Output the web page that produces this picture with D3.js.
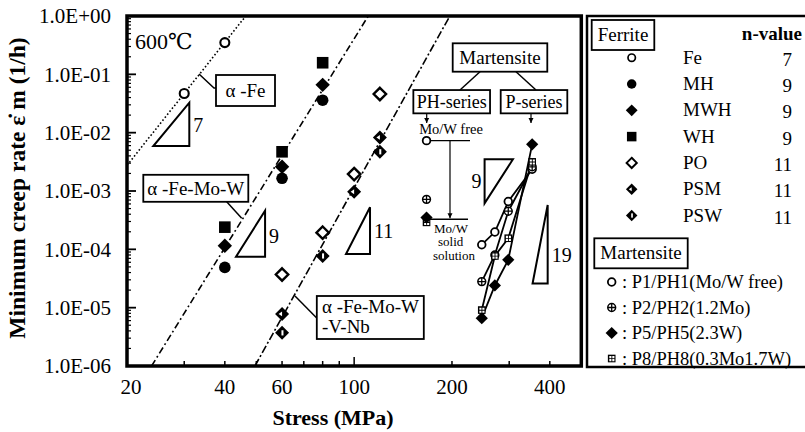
<!DOCTYPE html>
<html>
<head>
<meta charset="utf-8">
<script src="https://cdn.jsdelivr.net/npm/d3@7"></script>
<style>
  body { margin: 0; background: #fff; }
  svg, svg text { font-family: "Liberation Serif", Tinos, "Times New Roman", Times, "DejaVu Serif", serif; }
  svg { display: block; }
</style>
</head>
<body>
<svg id="chart" width="805" height="432"></svg>
<script>
// axis ticks
const stressTicks = [20, 40, 60, 100, 200, 400];
const stressMinor = [30, 50, 70, 80, 90, 300];
const rateTicks = [1, 1e-1, 1e-2, 1e-3, 1e-4, 1e-5, 1e-6];
const rateLabels = ["1.0E+00", "1.0E-01", "1.0E-02", "1.0E-03", "1.0E-04", "1.0E-05", "1.0E-06"];

// ferrite steels (stress MPa, min creep rate 1/h)
const feStress = [30, 40];            const feRate = [0.047, 0.35];
const mhStress = [40, 60, 80];        const mhRate = [4.9e-5, 1.65e-3, 0.036];
const mwhStress = [40, 60, 80];       const mwhRate = [1.15e-4, 2.6e-3, 0.066];
const whStress = [40, 60, 80];        const whRate = [2.4e-4, 4.7e-3, 0.158];
const poStress = [60, 80, 100, 120];  const poRate = [3.7e-5, 1.93e-4, 1.95e-3, 0.046];
const psmStress = [60, 100, 120];     const psmRate = [7.8e-6, 9.7e-4, 0.0083];
const pswStress = [60, 80, 120];      const pswRate = [3.7e-6, 7.7e-5, 0.0047];

const ferriteNames = ["Fe", "MH", "MWH", "WH", "PO", "PSM", "PSW"];
const ferriteN = [7, 9, 9, 9, 11, 11, 11];

// martensite: PH-series at one stress, P-series as connected lines
const phStress = 167;
const phRate = [0.0073, 7.2e-4, 3.5e-4, 2.9e-4];
const pStress = [247, 271, 298, 353];
const p1Rate = [1.2e-4, 1.98e-4, 6.6e-4, 2.36e-3];
const p2Rate = [2.8e-5, 8.0e-5, 4.5e-4, 2.6e-3];
const p5Rate = [6.6e-6, 2.4e-5, 6.6e-5, 6.3e-3];
const p8Rate = [9.1e-6, 7.7e-5, 1.55e-4, 3.16e-3];
const martensiteNames = ["P1/PH1(Mo/W free)", "P2/PH2(1.2Mo)", "P5/PH5(2.3W)", "P8/PH8(0.3Mo1.7W)"];

// fitted power-law lines, endpoints [stress, rate]
const fitFe = [[20, 0.00275], [46.4, 1]];
const fitFeMoW = [[23.8, 1e-6], [110.5, 1]];
const fitFeMoWVNb = [[49.5, 1e-6], [197, 1]];

// slope triangles [stress, rate] corners
const triangles = [
  { label: "7",  pts: [[24.1, 0.0059], [31.1, 0.0059], [31.1, 0.0327]], side: "right", dy: 8 },
  { label: "9",  pts: [[43.3, 7.47e-5], [53.2, 7.47e-5], [53.2, 4.6e-4]], side: "right", dy: 9 },
  { label: "11", pts: [[94.4, 8.3e-5], [111.9, 8.3e-5], [111.9, 5.25e-4]], side: "right", dy: 7 },
  { label: "9",  pts: [[252, 3.49e-3], [308, 3.49e-3], [252, 6.15e-4]], side: "left", dy: 7 },
  { label: "19", pts: [[354, 2.6e-5], [394, 2.6e-5], [394, 5.75e-4]], side: "right", dy: 18 }
];

const svg = d3.select("#chart")
  .attr("font-family", "'Liberation Serif', Tinos, 'Times New Roman', 'DejaVu Serif', serif");
const x = d3.scaleLog().domain([20, 500]).range([127, 581.3]);
const y = d3.scaleLog().domain([1e-6, 1]).range([366, 16]);

function marker(g, type, cx, cy, k) {
  const s = k;
  const dia = (r) => `M${cx},${cy - r}L${cx + r},${cy}L${cx},${cy + r}L${cx - r},${cy}Z`;
  if (type === "openCircle") {
    g.append("circle").attr("cx", cx).attr("cy", cy).attr("r", 4.5 * s)
      .attr("fill", "#fff").attr("stroke", "#000").attr("stroke-width", 2.1 * s);
  } else if (type === "circle") {
    g.append("circle").attr("cx", cx).attr("cy", cy).attr("r", 5.8 * s).attr("fill", "#000");
  } else if (type === "square") {
    g.append("rect").attr("x", cx - 5.8 * s).attr("y", cy - 5.8 * s)
      .attr("width", 11.6 * s).attr("height", 11.6 * s).attr("fill", "#000");
  } else if (type === "diamond") {
    g.append("path").attr("d", dia(7.2 * s)).attr("fill", "#000");
  } else if (type === "openDiamond") {
    g.append("path").attr("d", dia(6.2 * s)).attr("fill", "#fff")
      .attr("stroke", "#000").attr("stroke-width", 2.4 * s);
  } else if (type === "psm") {
    g.append("path").attr("d", dia(7 * s)).attr("fill", "#000");
    g.append("path").attr("d", `M${cx - 3.5 * s},${cy}L${cx},${cy - 2.4 * s}L${cx},${cy + 2.4 * s}Z`).attr("fill", "#fff");
  } else if (type === "psw") {
    g.append("path").attr("d", dia(7 * s)).attr("fill", "#000");
    g.append("rect").attr("x", cx - 0.6 * s).attr("y", cy - 2.6 * s)
      .attr("width", 2 * s).attr("height", 5.2 * s).attr("fill", "#fff");
  } else if (type === "plusCircle") {
    g.append("circle").attr("cx", cx).attr("cy", cy).attr("r", 4.6 * s)
      .attr("fill", "#fff").attr("stroke", "#000").attr("stroke-width", 1.8 * s);
    g.append("path").attr("d", `M${cx - 4.6 * s},${cy}H${cx + 4.6 * s}M${cx},${cy - 4.6 * s}V${cy + 4.6 * s}`)
      .attr("stroke", "#000").attr("stroke-width", 1.5 * s);
  } else if (type === "gridSquare") {
    g.append("rect").attr("x", cx - 4.5 * s).attr("y", cy - 4.5 * s)
      .attr("width", 9 * s).attr("height", 9 * s).attr("fill", "#000");
    g.append("path").attr("d", `M${cx - 2.8 * s},${cy - 2.8 * s}h2.1v2.1h-2.1zM${cx + 0.7 * s},${cy - 2.8 * s}h2.1v2.1h-2.1zM${cx - 2.8 * s},${cy + 0.7 * s}h2.1v2.1h-2.1zM${cx + 0.7 * s},${cy + 0.7 * s}h2.1v2.1h-2.1z`)
      .attr("fill", "#fff");
  }
}

// fit lines
const lineGen = d3.line().x(d => x(d[0])).y(d => y(d[1]));
const fits = [
  { pts: fitFe, dash: "1.6,2.2" },
  { pts: fitFeMoW, dash: "7,3,1.8,3" },
  { pts: fitFeMoWVNb, dash: "8,2.5,2,2.5" }
];
svg.append("g").selectAll("path").data(fits).join("path")
  .attr("d", d => lineGen(d.pts))
  .attr("fill", "none").attr("stroke", "#000").attr("stroke-width", 1.6)
  .attr("stroke-dasharray", d => d.dash);

// slope triangles
const triG = svg.append("g");
triangles.forEach(t => {
  const p = t.pts.map(d => [x(d[0]), y(d[1])]);
  triG.append("path").attr("d", "M" + p.join("L") + "Z")
    .attr("fill", "none").attr("stroke", "#000").attr("stroke-width", 2);
  const ys = p.map(d => d[1]);
  const xs = p.map(d => d[0]);
  const my = (d3.min(ys) + d3.max(ys)) / 2 + t.dy;
  triG.append("text")
    .attr("x", t.side === "right" ? d3.max(xs) + 4 : d3.min(xs) - 3)
    .attr("y", my)
    .attr("text-anchor", t.side === "right" ? "start" : "end")
    .attr("font-size", 20).text(t.label);
});

// ferrite points
const ferrite = [
  { type: "openCircle", stress: feStress, rate: feRate },
  { type: "circle", stress: mhStress, rate: mhRate },
  { type: "diamond", stress: mwhStress, rate: mwhRate },
  { type: "square", stress: whStress, rate: whRate },
  { type: "openDiamond", stress: poStress, rate: poRate },
  { type: "psm", stress: psmStress, rate: psmRate },
  { type: "psw", stress: pswStress, rate: pswRate }
];
const ptG = svg.append("g");
ferrite.forEach(s => s.stress.forEach((v, i) => marker(ptG, s.type, x(v), y(s.rate[i]), 1)));

// martensite P-series lines and points
const mTypes = ["openCircle", "plusCircle", "diamond", "gridSquare"];
const pSeries = [p1Rate, p2Rate, p5Rate, p8Rate];
const mG = svg.append("g");
pSeries.forEach(r => {
  mG.append("path").attr("d", lineGen(pStress.map((v, i) => [v, r[i]])))
    .attr("fill", "none").attr("stroke", "#000").attr("stroke-width", 1.8);
});
pSeries.forEach((r, j) => pStress.forEach((v, i) => marker(mG, mTypes[j], x(v), y(r[i]), 0.85)));
// PH-series
[3, 2, 1, 0].forEach(j => marker(mG, mTypes[j], x(phStress), y(phRate[j]), 0.85));

// annotation helpers
function boxText(cx, cy, w, h, lines, fs) {
  const g = svg.append("g");
  g.append("rect").attr("x", cx - w / 2).attr("y", cy - h / 2).attr("width", w).attr("height", h)
    .attr("fill", "#fff").attr("stroke", "#000").attr("stroke-width", 1.8);
  lines.forEach(t => {
    g.append("text").attr("x", t.x !== undefined ? t.x : cx).attr("y", t.y)
      .attr("text-anchor", t.x !== undefined ? "start" : "middle")
      .attr("font-size", fs).text(t.s);
  });
  return g;
}
function seg(pts, w) {
  svg.append("path").attr("d", "M" + pts.join("L")).attr("fill", "none")
    .attr("stroke", "#000").attr("stroke-width", w || 1.5);
}
function arrowDown(ax, y1, y2) {
  seg([[ax, y1], [ax, y2]], 1.2);
  svg.append("path").attr("d", `M${ax - 2.5},${y2 - 5}L${ax},${y2}L${ax + 2.5},${y2 - 5}Z`).attr("fill", "#000");
}

// ferrite line labels
seg([[199, 74], [214, 88], [216, 88]]);
boxText(245.5, 90.5, 59, 31, [{ s: "α -Fe", y: 97 }], 19);
seg([[226.7, 201.7], [241.7, 218.3]]);
boxText(195.8, 188.3, 105, 27, [{ s: "α -Fe-Mo-W", y: 195 }], 19);
seg([[295, 296], [316.7, 318]]);
boxText(370.3, 317.5, 107, 43, [{ s: "α -Fe-Mo-W", x: 322, y: 313 }, { s: "-V-Nb", x: 322, y: 333 }], 19);

svg.append("text").attr("x", 135).attr("y", 49).attr("font-size", 22).text("600℃");

// martensite annotations
seg([[480, 71.7], [460, 90]]);
seg([[516, 71.7], [536, 90]]);
boxText(500, 57.5, 94.6, 28.4, [{ s: "Martensite", y: 64 }], 19);
boxText(451.7, 101.7, 76.7, 23.3, [{ s: "PH-series", y: 107.5 }], 18);
boxText(534, 101.7, 66.6, 23.3, [{ s: "P-series", y: 107.5 }], 18);
arrowDown(426.7, 113.5, 123);
arrowDown(531, 113.5, 123);
svg.append("text").attr("x", 451).attr("y", 134).attr("text-anchor", "middle").attr("font-size", 14.5).text("Mo/W free");
const yFree = y(phRate[0]);
const ySolid = 219.3;
seg([[x(phStress) + 4, yFree], [470, yFree]], 1.4);
arrowDown(450, yFree, ySolid - 1);
seg([[428, ySolid], [468, ySolid]], 1.4);
[["Mo/W", 434, 232.5], ["solid", 438, 246], ["solution", 433, 259.5]].forEach(d =>
  svg.append("text").attr("x", d[1]).attr("y", d[2]).attr("font-size", 13).text(d[0]));

// axes ticks
const axG = svg.append("g");
stressTicks.concat(stressMinor).forEach(v => {
  const len = v === 100 ? 9 : 5;
  axG.append("line").attr("x1", x(v)).attr("x2", x(v)).attr("y1", 366).attr("y2", 366 - len)
    .attr("stroke", "#000").attr("stroke-width", 1.5);
});
const yMinor = [];
for (let e = -6; e < 0; e++) for (let m = 2; m <= 9; m++) yMinor.push(m * Math.pow(10, e));
yMinor.forEach(v => axG.append("line").attr("x1", 127).attr("x2", 131).attr("y1", y(v)).attr("y2", y(v))
  .attr("stroke", "#000").attr("stroke-width", 1.2));
rateTicks.forEach(v => axG.append("line").attr("x1", 127).attr("x2", 136).attr("y1", y(v)).attr("y2", y(v))
  .attr("stroke", "#000").attr("stroke-width", 1.8));

// frame
svg.append("rect").attr("x", 127).attr("y", 16).attr("width", 454.3).attr("height", 350)
  .attr("fill", "none").attr("stroke", "#000").attr("stroke-width", 3.5);

// tick labels
axG.selectAll("text.xl").data(stressTicks).join("text").attr("class", "xl")
  .attr("x", d => x(d) + (d === 20 ? 4 : 0)).attr("y", 394).attr("text-anchor", "middle")
  .attr("font-size", 21).text(d => d);
axG.selectAll("text.yl").data(rateTicks).join("text").attr("class", "yl")
  .attr("x", 111).attr("y", d => y(d)).attr("dy", "0.35em").attr("text-anchor", "end")
  .attr("font-size", 21).text((d, i) => rateLabels[i]);

// axis titles
svg.append("text").attr("x", 333).attr("y", 425).attr("text-anchor", "middle")
  .attr("font-size", 22).attr("font-weight", "bold").text("Stress (MPa)");
svg.append("text").attr("transform", "translate(25,188) rotate(-90)").attr("text-anchor", "middle")
  .attr("font-size", 23.5).attr("font-weight", "bold").text("Minimum creep rate  ε\u0307 m (1/h)");

// legend panel
const lg = svg.append("g");
lg.append("rect").attr("x", 587).attr("y", 16).attr("width", 240).attr("height", 351)
  .attr("fill", "none").attr("stroke", "#000").attr("stroke-width", 2.5);
lg.append("rect").attr("x", 591.7).attr("y", 20).attr("width", 62.6).attr("height", 30)
  .attr("fill", "#fff").attr("stroke", "#000").attr("stroke-width", 1.8);
lg.append("text").attr("x", 623).attr("y", 41).attr("text-anchor", "middle").attr("font-size", 19).text("Ferrite");
lg.append("text").attr("x", 802).attr("y", 40).attr("text-anchor", "end").attr("font-size", 19)
  .attr("font-weight", "bold").text("n-value");
ferrite.forEach((s, i) => {
  const ry = 57.7 + i * 26.3;
  marker(lg, s.type, 631.7, ry, 0.82);
  lg.append("text").attr("x", 683).attr("y", ry + 6).attr("font-size", 19).text(ferriteNames[i]);
  lg.append("text").attr("x", 792).attr("y", ry + 8).attr("text-anchor", "end").attr("font-size", 19).text(ferriteN[i]);
});
lg.append("rect").attr("x", 594.3).attr("y", 238.3).attr("width", 93.4).attr("height", 30)
  .attr("fill", "#fff").attr("stroke", "#000").attr("stroke-width", 1.8);
lg.append("text").attr("x", 641).attr("y", 259).attr("text-anchor", "middle").attr("font-size", 19).text("Martensite");
martensiteNames.forEach((t, i) => {
  const ry = 282 + i * 25.5;
  marker(lg, mTypes[i], 611.7, ry, 0.85);
  lg.append("text").attr("x", 622).attr("y", ry + 6).attr("font-size", 18.5).text(": " + t);
});
</script>
</body>
</html>
